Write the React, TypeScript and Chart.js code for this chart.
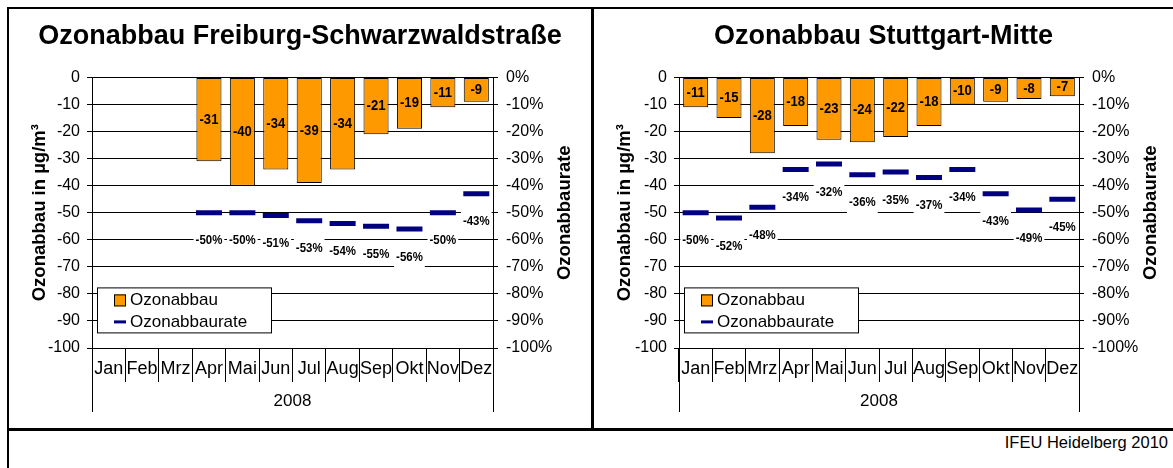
import React, { useEffect, useRef } from 'react';
import { Chart, registerables } from 'chart.js';

Chart.register(...registerables);

// ---------- data ----------
const months = ['Jan', 'Feb', 'Mrz', 'Apr', 'Mai', 'Jun', 'Jul', 'Aug', 'Sep', 'Okt', 'Nov', 'Dez'];
const yearLabel = '2008';
const freiburgAbbau = [null, null, null, -31, -40, -34, -39, -34, -21, -19, -11, -9];
const freiburgRate = [null, null, null, -50, -50, -51, -53, -54, -55, -56, -50, -43];
const stuttgartAbbau = [-11, -15, -28, -18, -23, -24, -22, -18, -10, -9, -8, -7];
const stuttgartRate = [-50, -52, -48, -34, -32, -36, -35, -37, -34, -43, -49, -45];
const titleFreiburg = 'Ozonabbau Freiburg-Schwarzwaldstraße';
const titleStuttgart = 'Ozonabbau Stuttgart-Mitte';
const leftAxisTitle = 'Ozonabbau in µg/m³';
const rightAxisTitle = 'Ozonabbaurate';
const seriesNames = ['Ozonabbau', 'Ozonabbaurate'];
const footerText = 'IFEU Heidelberg 2010';

const FONT = "'Liberation Sans', Arial, Helvetica, sans-serif";
const ORANGE = '#FF9900';
const NAVY = '#000080';

function drawNarrow(ctx: CanvasRenderingContext2D, text: string, x: number, y: number, font: string, sx: number) {
  ctx.save();
  ctx.font = font;
  ctx.textAlign = 'center';
  ctx.textBaseline = 'middle';
  ctx.translate(x, y);
  ctx.scale(sx, 1);
  ctx.fillText(text, 0, 0);
  ctx.restore();
}

const decorPlugin = {
  id: 'decor',
  afterDatasetsDraw(chart: any, _args: any, opts: any) {
    const ctx: CanvasRenderingContext2D = chart.ctx;
    const area = chart.chartArea;
    ctx.save();
    ctx.fillStyle = '#000';
    // bar labels
    const barMeta = chart.getDatasetMeta(0);
    barMeta.data.forEach((el: any, i: number) => {
      const v = chart.data.datasets[0].data[i];
      if (v == null) return;
      const p = el.getProps(['x', 'y', 'base'], true);
      drawNarrow(ctx, String(v), p.x, (p.y + p.base) / 2, `bold 15px ${FONT}`, 0.87);
    });
    // rate labels (below markers, white box)
    const lineMeta = chart.getDatasetMeta(1);
    lineMeta.data.forEach((el: any, i: number) => {
      const v = chart.data.datasets[1].data[i];
      if (v == null) return;
      const text = `${v}%`;
      const ly = el.y + 28;
      ctx.font = `bold 13px ${FONT}`;
      const w = ctx.measureText(text).width * 0.88;
      ctx.fillStyle = '#fff';
      ctx.fillRect(el.x - w / 2 - 2, ly - 11, w + 4, 22);
      ctx.fillStyle = '#000';
      drawNarrow(ctx, text, el.x, ly, `bold 13px ${FONT}`, 0.88);
    });
    // legend box
    const lx = area.left + opts.legendX;
    const ly = area.top + opts.legendY;
    const lw = 174;
    const lh = 45;
    ctx.fillStyle = '#fff';
    ctx.fillRect(lx, ly, lw, lh);
    ctx.strokeStyle = '#000';
    ctx.lineWidth = 1;
    ctx.strokeRect(lx + 0.5, ly + 0.5, lw, lh);
    // item 1: orange square
    ctx.fillStyle = ORANGE;
    ctx.fillRect(lx + 17, ly + 7, 12, 12);
    ctx.strokeStyle = '#000';
    ctx.strokeRect(lx + 17.5, ly + 7.5, 11, 11);
    // item 2: navy dash
    ctx.fillStyle = NAVY;
    ctx.fillRect(lx + 17, ly + 33, 12, 3);
    ctx.fillStyle = '#000';
    ctx.font = `17px ${FONT}`;
    ctx.textAlign = 'left';
    ctx.textBaseline = 'middle';
    ctx.fillText(chart.data.datasets[0].label, lx + 33, ly + 13);
    ctx.fillText(chart.data.datasets[1].label, lx + 33, ly + 35);
    ctx.restore();
  },
  afterDraw(chart: any, _args: any, opts: any) {
    const ctx: CanvasRenderingContext2D = chart.ctx;
    const area = chart.chartArea;
    ctx.save();
    // long edge lines of the category axis
    ctx.strokeStyle = '#000';
    ctx.lineWidth = 1;
    ctx.beginPath();
    ctx.moveTo(Math.round(area.left) + 0.5, area.bottom);
    ctx.lineTo(Math.round(area.left) + 0.5, area.bottom + 64);
    ctx.moveTo(Math.round(area.right) + 0.5, area.bottom);
    ctx.lineTo(Math.round(area.right) + 0.5, area.bottom + 64);
    ctx.stroke();
    // right axis title, reading upwards
    ctx.translate(area.right + opts.rightTitleX, (area.top + area.bottom) / 2);
    ctx.rotate(-Math.PI / 2);
    ctx.font = `bold 18.5px ${FONT}`;
    ctx.fillStyle = '#000';
    ctx.textAlign = 'center';
    ctx.textBaseline = 'middle';
    ctx.fillText(opts.rightTitle, 0, 0);
    ctx.restore();
  },
};

function makeConfig(title: string, abbau: (number | null)[], rate: (number | null)[], leftW: number, rightW: number): any {
  return {
    type: 'bar',
    data: {
      labels: months,
      datasets: [
        {
          type: 'bar',
          label: seriesNames[0],
          data: abbau,
          backgroundColor: ORANGE,
          borderColor: '#000',
          borderWidth: 1,
          borderSkipped: false,
          yAxisID: 'y',
          categoryPercentage: 0.75,
          barPercentage: 1,
          order: 2,
        },
        {
          type: 'line',
          label: seriesNames[1],
          data: rate,
          yAxisID: 'y1',
          showLine: false,
          pointStyle: 'line',
          pointRadius: 13,
          pointHoverRadius: 13,
          pointBorderWidth: 5,
          borderColor: NAVY,
          backgroundColor: NAVY,
          order: 1,
        },
      ],
    },
    options: {
      animation: false,
      responsive: false,
      devicePixelRatio: 1,
      events: [],
      layout: { padding: 0 },
      plugins: {
        legend: { display: false },
        tooltip: { enabled: false },
        title: {
          display: true,
          text: title,
          color: '#000',
          font: { family: FONT, size: 27, weight: 'bold' },
          padding: { top: 11, bottom: 25 },
        },
        decor: { rightTitle: rightAxisTitle, rightTitleX: 72, legendX: 5, legendY: 210 },
      },
      scales: {
        x: {
          type: 'category',
          offset: true,
          grid: { offset: true, drawOnChartArea: false, drawTicks: true, tickLength: 34, color: '#000', lineWidth: 1 },
          border: { display: true, color: '#000' },
          ticks: { font: { family: FONT, size: 18 }, color: '#000', padding: -24, maxRotation: 0, autoSkip: false },
          title: { display: true, text: yearLabel, color: '#000', font: { family: FONT, size: 17 }, padding: { top: 0, bottom: 16 } },
          afterFit: (s: any) => { s.height = 80; },
        },
        y: {
          position: 'left',
          min: -100,
          max: 0,
          ticks: { stepSize: 10, font: { family: FONT, size: 16 }, color: '#000', padding: 7 },
          grid: { color: '#000', lineWidth: 1, tickLength: 5, drawTicks: true },
          border: { display: true, color: '#000' },
          title: { display: true, text: leftAxisTitle, color: '#000', font: { family: FONT, size: 18.5, weight: 'bold' }, padding: { top: 20, bottom: 0 } },
          afterFit: (s: any) => { s.width = leftW; },
        },
        y1: {
          position: 'right',
          min: -100,
          max: 0,
          ticks: { stepSize: 10, font: { family: FONT, size: 16 }, color: '#000', padding: 8, callback: (v: any) => `${v}%` },
          grid: { drawOnChartArea: false, color: '#000', tickLength: 5, drawTicks: true },
          border: { display: true, color: '#000' },
          afterFit: (s: any) => { s.width = rightW; },
        },
      },
    },
    plugins: [decorPlugin],
  };
}

function ChartPanel(props: { cfg: () => any; left: number; top: number; width: number; height: number }) {
  const ref = useRef<HTMLCanvasElement>(null);
  useEffect(() => {
    const chart = new Chart(ref.current as HTMLCanvasElement, props.cfg());
    return () => chart.destroy();
  }, []);
  return (
    <canvas
      ref={ref}
      width={props.width}
      height={props.height}
      style={{ position: 'absolute', left: props.left, top: props.top, width: props.width, height: props.height, display: 'block' }}
    />
  );
}

export default function App() {
  return (
    <div style={{ position: 'absolute', left: 0, top: 0, width: 1173, height: 468, background: '#fff', overflow: 'hidden', fontFamily: FONT }}>
      <div style={{ position: 'absolute', left: 7, top: 7, width: 1200, height: 500, borderLeft: '2px solid #000', borderTop: '2px solid #000' }} />
      <div style={{ position: 'absolute', left: 591, top: 7, width: 3, height: 423, background: '#000' }} />
      <div style={{ position: 'absolute', left: 7, top: 428, width: 1166, height: 3, background: '#000' }} />
      <ChartPanel cfg={() => makeConfig(titleFreiburg, freiburgAbbau, freiburgRate, 83, 98)} left={9} top={9} width={582} height={419} />
      <ChartPanel cfg={() => makeConfig(titleStuttgart, stuttgartAbbau, stuttgartRate, 85, 94)} left={594} top={9} width={579} height={419} />
      <div style={{ position: 'absolute', right: 5, top: 432, height: 20, lineHeight: '20px', fontSize: 16.5, color: '#000', whiteSpace: 'nowrap' }}>{footerText}</div>
    </div>
  );
}
